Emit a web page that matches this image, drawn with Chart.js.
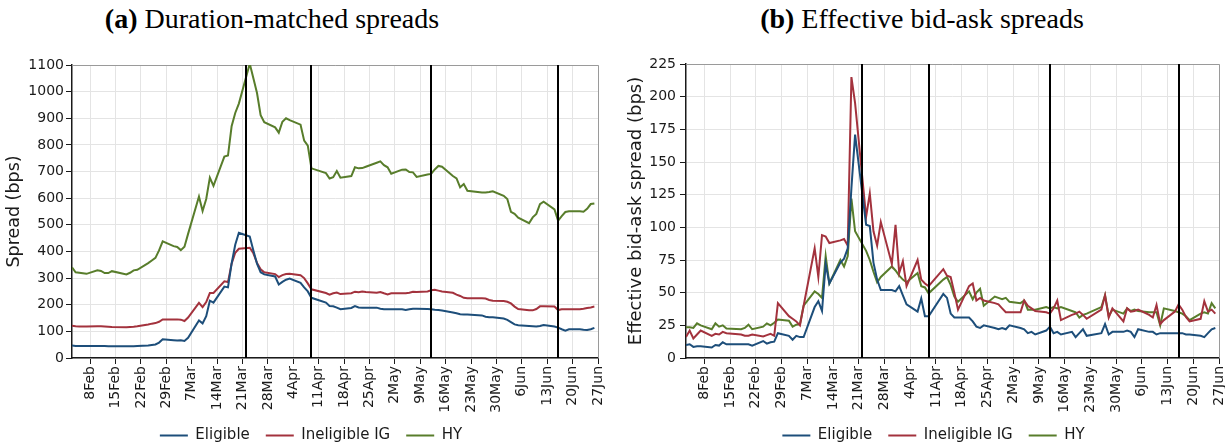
<!DOCTYPE html>
<html>
<head>
<meta charset="utf-8">
<script src="https://cdn.jsdelivr.net/npm/chart.js@4.4.1/dist/chart.umd.min.js"></script>
<style>
  html, body { margin: 0; padding: 0; background: #fff; }
  #fig { position: relative; width: 1225px; height: 445px; overflow: hidden; background: #fff; }
  .title { position: absolute; top: 3px; font-family: "Liberation Serif", "DejaVu Serif", serif;
           font-size: 28px; color: #000; white-space: nowrap; transform: translateX(-50%); }
  .panel { position: absolute; top: 40px; }
</style>
</head>
<body>
<div id="fig">
  <div class="title" style="left:272px"><b>(a)</b> Duration-matched spreads</div>
  <div class="title" style="left:922px"><b>(b)</b> Effective bid-ask spreads</div>
  <div class="panel" style="left:0px"><canvas id="dm" width="612" height="421"></canvas></div>
  <div class="panel" style="left:612px"><canvas id="eb" width="613" height="421"></canvas></div>
</div>
<script>
// Trading days run Monday-Friday from 3 Feb 2020; each row below is one week,
// null marks a market holiday (17 Feb, 10 Apr, 25 May).
const seriesNames = ['Eligible', 'Ineligible IG', 'HY'];
const seriesColors = ['#1d4e7a', '#a3323d', '#587d2b'];

// Weekly x-axis labels (Saturdays)
const tickLabels = ['8Feb', '15Feb', '22Feb', '29Feb', '7Mar', '14Mar', '21Mar', '28Mar', '4Apr',
  '11Apr', '18Apr', '25Apr', '2May', '9May', '16May', '23May', '30May', '6Jun', '13Jun', '20Jun', '27Jun'];

// Policy announcement dates marked by vertical lines
const eventDates = ['22Mar', '9Apr', '12May', '16Jun'];

// (a) Duration-matched spreads, bps
const dmEligible = [
  47, 45, 45, 45, 45,
  45, 45, 45, 44, 44,
  null, 44, 44, 44, 45,
  47, 49, 51, 58, 70,
  67, 66, 67, 64, 76,
  141, 130, 157, 215, 208,
  268, 265, 355, 425, 470,
  456, 404, 354, 322, 314,
  306, 276, 286, 294, 298,
  282, 265, 250, 226, null,
  208, 195, 194, 189, 183,
  188, 195, 190, 189, 189,
  189, 185, 183, 183, 183,
  183, 180, 183, 185, 185,
  184, 183, 181, 180, 178,
  171, 168, 164, 163, 163,
  null, 160, 155, 153, 153,
  148, 143, 135, 126, 123,
  120, 119, 118, 120, 124,
  118, 114, 108, 103, 108,
  108, 106, 105, 108, 113
];
const dmIneligible = [
  121, 119, 118, 118, 118,
  119, 119, 118, 117, 116,
  null, 115, 116, 117, 119,
  126, 129, 131, 136, 145,
  145, 145, 144, 139, 152,
  207, 191, 210, 244, 244,
  288, 285, 354, 395, 410,
  414, 393, 357, 333, 322,
  315, 304, 311, 315, 316,
  311, 300, 280, 258, null,
  244, 238, 243, 246, 240,
  243, 249, 247, 250, 248,
  245, 248, 243, 239, 243,
  243, 243, 245, 249, 248,
  250, 254, 256, 253, 250,
  245, 238, 233, 226, 224,
  null, 224, 223, 218, 215,
  214, 211, 205, 193, 184,
  179, 179, 184, 194, 194,
  193, 180, 183, 183, 183,
  183, 185, 188, 190, 193
];
const dmHY = [
  340, 322, 320, 318, 316,
  329, 327, 319, 319, 326,
  null, 314, 320, 329, 331,
  356, 366, 376, 404, 438,
  420, 417, 405, 418, 466,
  606, 552, 597, 677, 646,
  756, 760, 870, 920, 955,
  1105, 1050, 995, 912, 885,
  866, 846, 887, 900, 893,
  876, 816, 797, 712, null,
  694, 674, 679, 702, 677,
  683, 716, 712, 713, 718,
  733, 738, 724, 716, 692,
  707, 708, 698, 697, 680,
  689, 691, 708, 721, 718,
  683, 674, 641, 653, 628,
  null, 621, 621, 623, 626,
  609, 597, 549, 541, 527,
  506, 528, 541, 578, 587,
  558, 516, 533, 548, 551,
  551, 549, 560, 578, 580
];

// (b) Effective bid-ask spreads, bps
const ebEligible = [
  10, 10.5, 8.5, 9, 9,
  8, 10, 9.5, 12, 10.5,
  null, 10.5, 10.5, 10.5, 9.5,
  13, 11, 12, 12.5, 19,
  17, 14, 17, 16, 16,
  39, 43.5, 36, 72, 57,
  73, 76, 84, 130, 171,
  102, 101, 73, 60, 52,
  52, 51, 55, 48, 41,
  35.5, 45.5, 32, 32, null,
  49, 46, 34, 31, 31,
  31, 28, 24, 23, 25,
  23, 22, 23, 22, 25,
  23, 22, 19, 20, 18,
  21, 24, 19, 20, 18,
  20, 16, 19, 22, 17,
  null, 19, 26, 18, 20,
  20, 21, 20, 16, 22,
  20, 20, 18, 19, 19,
  19, 19, 19, 18, 18,
  17, 16, 19, 22, 23
];
const ebIneligible = [
  16, 21, 15, 18, 21,
  17, 18.5, 18, 20, 19,
  null, 18, 17, 17, 18,
  16.5, 17.5, 18.5, 17, 42,
  32, 30, 28, 25, 40,
  84, 62, 94, 93, 88,
  90, 91, 86, 215, 195,
  108, 126, 97, 86, 104,
  72, 102, 65, 74, 55,
  75, 60, 57, 55, null,
  68, 63, 62, 50, 37,
  55, 57, 44, 46, 44,
  42, 41, 38, 35, 35,
  35, 44, 40, 38, 36,
  35, 34, 38, 44, 29,
  33, 34, 35.5, 33, 30,
  null, 37, 48, 31, 38,
  28, 38, 35.5, 36, 37,
  33, 31, 40.5, 26, 29,
  35.5, 41, 37, 31.5, 28,
  30, 43.5, 35.5, 37, 34
];
const ebHY = [
  23.5, 23.5, 23, 26.5, 25,
  22, 26.5, 24, 25, 22.5,
  null, 22, 23, 25.5, 22,
  24, 26.5, 25, 27, 29.5,
  28.5, 24, 25.5, 26, 40,
  51, 49, 46, 78, 57,
  75, 70, 78, 122, 97,
  82, 75, 66, 58, 62,
  70, 67, 63, 60, 58,
  65, 55, 54, 49.5, null,
  60, 62, 56, 47, 43,
  51, 45, 50, 53, 40,
  47, 46, 45, 46, 43,
  42, 44, 37, 37, 37,
  39, 38, 39, 38, 39,
  36, 35, 31, 33, 34,
  null, 39, 48, 32, 37,
  34, 38, 36, 37, 36,
  35, 35, 35, 25, 38,
  36, 35, 34, 32, 29,
  34, 35, 34, 42, 38
];

// ---- helpers -------------------------------------------------------------
const MONTHS = { Jan: 0, Feb: 1, Mar: 2, Apr: 3, May: 4, Jun: 5, Jul: 6 };
const ORIGIN = Date.UTC(2020, 1, 3);
function dayOf(label) {               // '21Mar' -> days since 3 Feb 2020
  const m = label.match(/^(\d+)([A-Za-z]+)$/);
  return (Date.UTC(2020, MONTHS[m[2]], +m[1]) - ORIGIN) / 864e5;
}
function tradingDay(i) {              // row-major week layout -> calendar day
  return Math.floor(i / 5) * 7 + (i % 5);
}
const tickDays = tickLabels.map(dayOf);
const eventDays = eventDates.map(dayOf);

function datasets(list) {
  return list.map((vals, k) => ({
    label: seriesNames[k],
    data: vals.map((v, i) => ({ x: tradingDay(i), y: v })),
    borderColor: seriesColors[k],
    backgroundColor: seriesColors[k],
    borderWidth: 2,
    pointRadius: 0,
    tension: 0,
    spanGaps: true,
    pointStyle: 'line'
  }));
}

// vertical announcement lines drawn over the series
const eventLines = {
  id: 'eventLines',
  afterDatasetsDraw(chart) {
    const { ctx, chartArea: a, scales: { x } } = chart;
    ctx.save();
    ctx.strokeStyle = '#000';
    ctx.lineWidth = 2;
    eventDays.forEach(d => {
      const px = Math.round(x.getPixelForValue(d));
      ctx.beginPath();
      ctx.moveTo(px, a.top);
      ctx.lineTo(px, a.bottom);
      ctx.stroke();
    });
    ctx.restore();
  }
};

// light top and right spines
const frame = {
  id: 'frame',
  beforeDatasetsDraw(chart) {
    const { ctx, chartArea: a } = chart;
    ctx.save();
    ctx.strokeStyle = '#9a9a9a';
    ctx.lineWidth = 1;
    ctx.beginPath();
    ctx.moveTo(a.left, a.top + 0.5);
    ctx.lineTo(a.right + 0.5, a.top + 0.5);
    ctx.lineTo(a.right + 0.5, a.bottom);
    ctx.stroke();
    ctx.restore();
  }
};

// nudge the legend under the panel
const legendShift = {
  id: 'legendShift',
  afterLayout(chart, args, opts) {
    const l = chart.legend;
    if (!l) return;
    l.left += opts.dx; l.right += opts.dx;
    l.top += opts.dy; l.bottom += opts.dy;
  }
};

Chart.defaults.font.family = '"DejaVu Sans", sans-serif';
Chart.defaults.color = '#1a1a1a';

function build(id, list, cfg) {
  return new Chart(document.getElementById(id), {
    type: 'line',
    data: { datasets: datasets(list) },
    options: {
      responsive: false,
      animation: false,
      devicePixelRatio: 1,
      layout: { padding: { top: cfg.padTop, right: cfg.padRight, left: 0, bottom: 0 } },
      scales: {
        x: {
          type: 'linear',
          min: 0,
          max: tickDays[tickDays.length - 1],
          afterBuildTicks: s => { s.ticks = tickDays.map(v => ({ value: v })); },
          afterFit: s => { s.height = 62; s.paddingLeft = 0; s.paddingRight = 0; },
          ticks: {
            autoSkip: false,
            minRotation: 90,
            maxRotation: 90,
            padding: 2,
            font: { size: 14 },
            color: '#1a1a1a',
            callback: (v, i) => tickLabels[i]
          },
          grid: { color: '#e4e4e4', lineWidth: 1, tickColor: '#1a1a1a', tickLength: 6 },
          border: { color: '#1a1a1a', width: 1.5 }
        },
        y: {
          min: 0,
          max: cfg.yMax,
          afterFit: s => { s.width = cfg.yWidth; },
          ticks: {
            stepSize: cfg.yStep,
            padding: cfg.tickPad,
            font: { size: 14 },
            color: '#1a1a1a',
            callback: v => String(v)
          },
          grid: { color: '#e4e4e4', lineWidth: 1, tickColor: '#1a1a1a', tickLength: 6 },
          border: { color: '#1a1a1a', width: 1.5 },
          title: {
            display: true,
            text: cfg.yTitle,
            font: { size: cfg.titleSize },
            color: '#1a1a1a',
            padding: { top: cfg.titlePad, bottom: 0 }
          }
        }
      },
      plugins: {
        legend: {
          position: 'bottom',
          labels: {
            usePointStyle: true,
            pointStyle: 'line',
            pointStyleWidth: 28,
            padding: 16,
            font: { size: 15 },
            color: '#1a1a1a'
          }
        },
        tooltip: { enabled: false },
        legendShift: { dx: cfg.legendDx, dy: -8 }
      }
    },
    plugins: [frame, eventLines, legendShift]
  });
}

build('dm', [dmEligible, dmIneligible, dmHY], {
  padTop: 25, padRight: 14, yWidth: 72, yMax: 1100, yStep: 100, tickPad: 2,
  yTitle: 'Spread (bps)', titleSize: 17.5, titlePad: 3.5, legendDx: 12
});
build('eb', [ebEligible, ebIneligible, ebHY], {
  padTop: 24, padRight: 6, yWidth: 74, yMax: 225, yStep: 25, tickPad: 4,
  yTitle: 'Effective bid-ask spread (bps)', titleSize: 18, titlePad: 14, legendDx: 18
});
</script>
</body>
</html>
